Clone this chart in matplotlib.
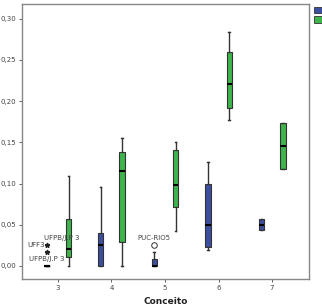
import matplotlib
matplotlib.use("Agg")
import matplotlib.pyplot as plt
from matplotlib.patches import Patch

conceitos = [3, 4, 5, 6, 7]
# (whislo, q1, med, q3, whishi)
blue_stats = [
    (0.000, 0.000, 0.000, 0.000, 0.000),
    (0.000, 0.000, 0.025, 0.040, 0.096),
    (0.000, 0.000, 0.000, 0.008, 0.017),
    (0.019, 0.023, 0.050, 0.099, 0.126),
    (0.044, 0.044, 0.050, 0.057, 0.057),
]
green_stats = [
    (0.000, 0.011, 0.021, 0.057, 0.109),
    (0.000, 0.029, 0.115, 0.138, 0.155),
    (0.042, 0.072, 0.098, 0.141, 0.150),
    (0.177, 0.192, 0.221, 0.260, 0.284),
    (0.118, 0.118, 0.146, 0.173, 0.173),
]
star_outliers = [(3, 0.0255, "UFF3"), (3, 0.017, "UFPB/J.P 3")]
circle_outliers = [(5, 0.025, "PUC-RIO5")]
legend_labels = ["A", "A"]

BLUE = "#3c4f9e"
GREEN = "#3db54a"
TXT = "#444444"


def make_stats(rows):
    return [dict(whislo=a, q1=b, med=c, q3=d, whishi=e, fliers=[]) for a, b, c, d, e in rows]


fig = plt.figure(figsize=(3.22, 3.07), dpi=100)
ax = fig.add_axes([0.068, 0.091, 0.892, 0.896])

for stats, off, col in [(blue_stats, -0.2, BLUE), (green_stats, 0.2, GREEN)]:
    ax.bxp(make_stats(stats), positions=[c + off for c in conceitos], widths=0.1,
           patch_artist=True, showfliers=False, manage_ticks=False,
           boxprops=dict(facecolor=col, edgecolor="#333333", linewidth=0.8),
           medianprops=dict(color="black", linewidth=1.5),
           whiskerprops=dict(color="#333333", linewidth=1.0),
           capprops=dict(color="#333333", linewidth=1.0), capwidths=0.03)

# collapsed box at conceito 3 drawn as a flat line
ax.plot([2.77, 2.83], [0, 0], color="black", lw=1.5)

# outlier marks and their labels
for x, y, lab in star_outliers:
    ax.plot(x - 0.2, y, marker="*", color="#222222", ms=3.5, ls="none")
ax.text(2.77, 0.0255, star_outliers[0][2], fontsize=5, ha="right", va="center", color=TXT)
ax.text(2.8, 0.0085, star_outliers[1][2], fontsize=5, ha="center", va="center", color=TXT)
ax.text(3.07, 0.034, star_outliers[1][2], fontsize=5, ha="center", va="center", color=TXT)
for x, y, lab in circle_outliers:
    ax.plot(x - 0.2, y, marker="o", mfc="white", mec="#333333", ms=4, mew=0.7, ls="none")
    ax.text(x - 0.2, y + 0.009, lab, fontsize=5, ha="center", va="center", color=TXT)

ax.set_xlim(2.33, 7.69)
ax.set_ylim(-0.016, 0.318)
ax.set_xticks(conceitos)
ax.set_yticks([0, 0.05, 0.10, 0.15, 0.20, 0.25, 0.30])
ax.set_yticklabels(["0,00", "0,05", "0,10", "0,15", "0,20", "0,25", "0,30"])
ax.tick_params(labelsize=5, length=2.5, width=0.6, pad=1.5, colors=TXT)
for s in ax.spines.values():
    s.set_color("#888888")
    s.set_linewidth(1.0)
fig.text(0.515, 0.017, "Conceito", fontsize=6.5, fontweight="bold", ha="center", va="center",
         color="#222222")

handles = [Patch(facecolor=BLUE, edgecolor="#333333", lw=0.6),
           Patch(facecolor=GREEN, edgecolor="#333333", lw=0.6)]
fig.legend(handles, legend_labels, loc="upper left", bbox_to_anchor=(0.958, 1.0),
           frameon=False, fontsize=6, handlelength=1.0, handleheight=0.9,
           handletextpad=0.3, labelspacing=0.1, borderpad=0.2)

fig.savefig("out.png", dpi=100)
